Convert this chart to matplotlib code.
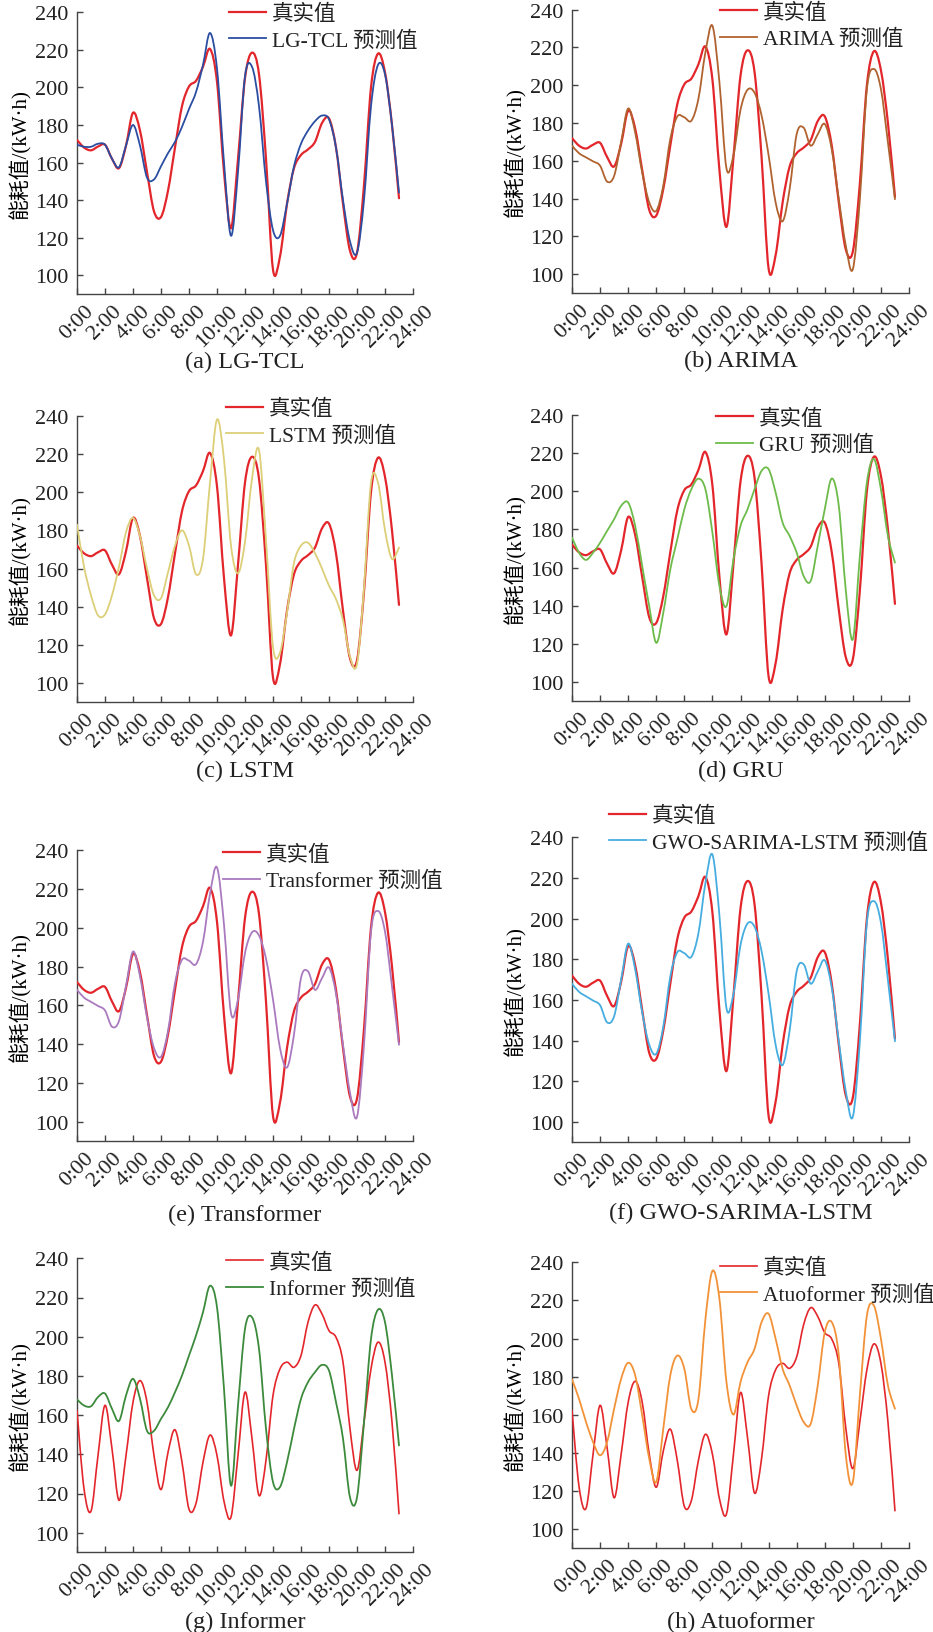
import numpy as np
import matplotlib
matplotlib.use("Agg")
import matplotlib.pyplot as plt
from matplotlib.path import Path
from matplotlib.patches import PathPatch
from matplotlib.lines import Line2D

plt.rcParams['font.family'] = ['Liberation Serif', 'Noto Sans CJK SC', 'DejaVu Sans']
plt.rcParams['text.color'] = '#222222'
plt.rcParams['axes.unicode_minus'] = False

# ---------------- data (half-hour samples, 0:00 .. 23:00) ----------------
hours = np.arange(0, 23.01, 0.5)

true_main = [172, 168, 166.5, 168.5, 169.5, 162, 157, 169, 186.5, 177, 155, 134, 131, 145, 168, 190,
             200.5, 203.5, 211, 220.5, 203, 155, 125, 162, 205, 218.5, 207, 162, 103, 110, 138, 157,
             164, 167, 171, 181, 183.5, 168, 138, 113, 112, 148, 200, 218, 208, 180, 141]
lgtcl_pred = [169.5, 168.4, 168.4, 170, 169.5, 162, 157.5, 169, 180, 169, 152, 151, 158, 165, 171, 179,
              188.5, 197.5, 212, 229, 210, 160, 121, 155, 206, 211, 190, 150, 124, 121, 138, 158,
              170, 177, 182, 185, 183, 168, 140, 118, 112, 140, 190, 212, 207, 180, 144]
arima_pred = [168, 164, 161.8, 159.7, 157.4, 149, 152, 170, 187.7, 175, 153.8, 138, 133.5, 146.8, 171.5, 183.5,
              183, 181.2, 192.7, 217.4, 231.5, 201.5, 156, 163, 187, 197.6, 196, 184, 163, 138, 128, 145,
              174.1, 177.5, 168, 174, 179.5, 166, 139.7, 115, 102.6, 139.7, 198, 208.6, 198, 169.7, 139.7]
lstm_pred = [183, 161, 146, 135.5, 136, 146, 161, 179, 186.5, 177, 160, 146, 144.5, 158, 172, 180,
             172, 157, 165, 205, 238, 217, 172, 157.5, 174, 207, 222, 175, 119, 116, 137, 163,
             172, 173.5, 168, 160, 151, 144, 133, 114, 110, 150, 205, 205, 180, 165, 171]
gru_pred = [175.7, 167.8, 164, 167.8, 173, 179.2, 185.3, 192.3, 194, 181.8, 160.8, 139.8, 120.6, 136.3, 159, 174.8,
            190.5, 201, 206.5, 201, 178.3, 150.3, 139.8, 164.3, 181.8, 190.5, 201, 210.6, 211.5, 199.3, 183.5, 176.5,
            167.8, 155.5, 153, 171.3, 190.5, 206.6, 192.3, 148, 122.4, 166, 204.5, 216.8, 201, 176.5, 162.6]
transformer_pred = [168, 164, 161.8, 159.7, 157.4, 149, 152, 170, 187.7, 175, 153.8, 138, 133.5, 146.8, 171.5, 183.5,
                    183, 181.2, 192.7, 217.4, 231, 201.5, 156, 163, 187, 197.6, 196, 184, 163, 138, 128, 145,
                    174.1, 177.5, 168, 174, 179.5, 166, 139.7, 115, 102.6, 139.7, 198, 208.6, 198, 169.7, 139.7]
gwo_pred = [168, 164, 161.8, 159.7, 157.4, 149, 152, 170, 187.7, 175, 153.8, 138, 133.5, 146.8, 171.5, 183.5,
            183, 181.2, 192.7, 217.4, 231.5, 201.5, 156, 163, 187, 197.6, 196, 184, 163, 138, 128, 145,
            174.1, 177.5, 168, 174, 179.5, 166, 139.7, 115, 102.6, 139.7, 198, 208.6, 198, 169.7, 139.7]

true_late = [162.4, 122.4, 111, 139.4, 165, 142.8, 116.5, 139.4, 166.6, 177.6, 166.6, 139.4, 122, 141, 152.5, 136,
             112, 115, 136, 149.8, 139.4, 116, 108, 139.4, 171.7, 148, 119, 137, 170, 183.6, 187, 184.4,
             190.4, 207.4, 216.2, 211.6, 203.1, 199.7, 187, 153, 131.8, 156.4, 183.6, 197.2, 187, 156.4, 109.7]
informer_pred = [168, 164.9, 164.5, 169.2, 171, 163.2, 157, 170, 178.5, 168.3, 152, 152, 158.1, 164, 171.7, 180.2,
                 190.4, 200.6, 212.5, 226, 215, 173.4, 124, 164.9, 204, 209.9, 193.8, 153, 125.8, 123.3, 136, 153,
                 168.3, 176.8, 181.9, 185.6, 182.7, 166.6, 148, 118, 118, 156.4, 198.9, 213.8, 207.4, 180.2, 144.5]
atuo_pred = [178.6, 168.4, 156.2, 145.7, 138.8, 145.7, 163.2, 178.9, 187.3, 180.7, 159.7, 137, 124.8, 152.7, 180.7, 191.1,
             184.1, 163, 168, 210, 235.5, 220.8, 177.2, 160.1, 177.2, 187.6, 194.6, 208.6, 213, 199.9, 184.1, 175.4,
             164.9, 156.2, 155.3, 175.4, 203.3, 208.6, 191.1, 138.8, 124.8, 170.2, 212, 217.3, 199.9, 175.4, 163.2]

xtick_vals = list(range(0, 25, 2))
xtick_labels = [f"{h}:00" for h in xtick_vals]
ytick_vals = list(range(100, 241, 20))

panels = [
    dict(true=true_main, pred=lgtcl_pred, name="LG-TCL", color="#2B4EA2", cap="(a) LG-TCL",
         box=(77, 13.3, 413, 295), leg=(229, 28.5), capy=362, tlw=1.6),
    dict(true=true_main, pred=arima_pred, name="ARIMA", color="#B0622F", cap="(b) ARIMA",
         box=(572, 10.7, 909, 294), leg=(720, 27), capy=361, tlw=1.6),
    dict(true=true_main, pred=lstm_pred, name="LSTM", color="#DCCF78", cap="(c) LSTM",
         box=(77, 416.7, 413, 703.3), leg=(226, 423.5), capy=771, tlw=1.6),
    dict(true=true_main, pred=gru_pred, name="GRU", color="#6DBB4B", cap="(d) GRU",
         box=(572, 415.7, 909, 702.3), leg=(716, 433), capy=771, tlw=1.6),
    dict(true=true_main, pred=transformer_pred, name="Transformer", color="#AA7ABF", cap="(e) Transformer",
         box=(77, 851, 413, 1142.3), leg=(223, 869), capy=1215, tlw=1.6),
    dict(true=true_main, pred=gwo_pred, name="GWO-SARIMA-LSTM", color="#45ADE0", cap="(f) GWO-SARIMA-LSTM",
         box=(572, 838.3, 909, 1143.3), leg=(609, 830.5), capy=1213, tlw=1.6),
    dict(true=true_late, pred=informer_pred, name="Informer", color="#3C8A3C", cap="(g) Informer",
         box=(77, 1259.3, 413, 1553.3), leg=(226, 1277), capy=1622, tlw=1.2),
    dict(true=true_late, pred=atuo_pred, name="Atuoformer", color="#F29238", cap="(h) Atuoformer",
         box=(572, 1263.3, 909, 1549.3), leg=(720, 1282.5), capy=1622, tlw=1.2),
]

W, H = 933, 1633
fig = plt.figure(figsize=(W / 100, H / 100), dpi=100)
RED = "#E3262B"


def smooth_path(x, y):
    pts = np.column_stack([np.asarray(x, float), np.asarray(y, float)])
    n = len(pts)
    verts = [pts[0]]
    codes = [Path.MOVETO]
    for i in range(n - 1):
        p0 = pts[max(i - 1, 0)]
        p1 = pts[i]
        p2 = pts[i + 1]
        p3 = pts[min(i + 2, n - 1)]
        c1 = p1 + (p2 - p0) / 6.0
        c2 = p2 - (p3 - p1) / 6.0
        verts += [c1, c2, p2]
        codes += [Path.CURVE4] * 3
    return Path(np.array(verts), codes)


for p in panels:
    l, t, r, b = p["box"]
    ax = fig.add_axes([l / W, 1 - b / H, (r - l) / W, (b - t) / H])
    ax.set_xlim(0, 24)
    ax.set_ylim(90, 240)
    for s in ("top", "right"):
        ax.spines[s].set_visible(False)
    for s in ("left", "bottom"):
        ax.spines[s].set_color("#444444")
        ax.spines[s].set_linewidth(1.0)
    ax.set_xticks(xtick_vals)
    ax.set_xticklabels(xtick_labels, rotation=45, ha="center", va="top", fontsize=16)
    ax.set_yticks(ytick_vals)
    ax.set_yticklabels([str(v) for v in ytick_vals], fontsize=16)
    ax.tick_params(axis="both", direction="in", length=4, width=1.0, color="#444444", labelcolor="#222222")
    ax.tick_params(axis="y", pad=6)
    ax.tick_params(axis="x", pad=5)
    ax.set_ylabel("能耗值/(kW·h)", fontsize=15)
    ax.yaxis.set_label_coords(-0.135, 0.5)

    ax.add_patch(PathPatch(smooth_path(hours, p["true"]), fill=False, edgecolor=RED, lw=p["tlw"],
                           capstyle="round", joinstyle="round", zorder=3))
    ax.add_patch(PathPatch(smooth_path(hours, p["pred"]), fill=False, edgecolor=p["color"], lw=1.3,
                           capstyle="round", joinstyle="round", zorder=3))

    handles = [Line2D([], [], color=RED, lw=p["tlw"]), Line2D([], [], color=p["color"], lw=1.3)]
    labels = ["真实值", f"{p['name']} 预测值"]
    lx, ly = p["leg"]
    fig.legend(handles, labels, loc="center left", bbox_to_anchor=(lx / W, 1 - ly / H),
               bbox_transform=fig.transFigure, frameon=False, fontsize=15.5, borderpad=0,
               borderaxespad=0, handlelength=1.7, handletextpad=0.3, labelspacing=0.3)

    fig.text(((l + r) / 2) / W, 1 - p["capy"] / H, p["cap"], ha="center", va="center", fontsize=17.5)

fig.savefig("out.png", dpi=100)
